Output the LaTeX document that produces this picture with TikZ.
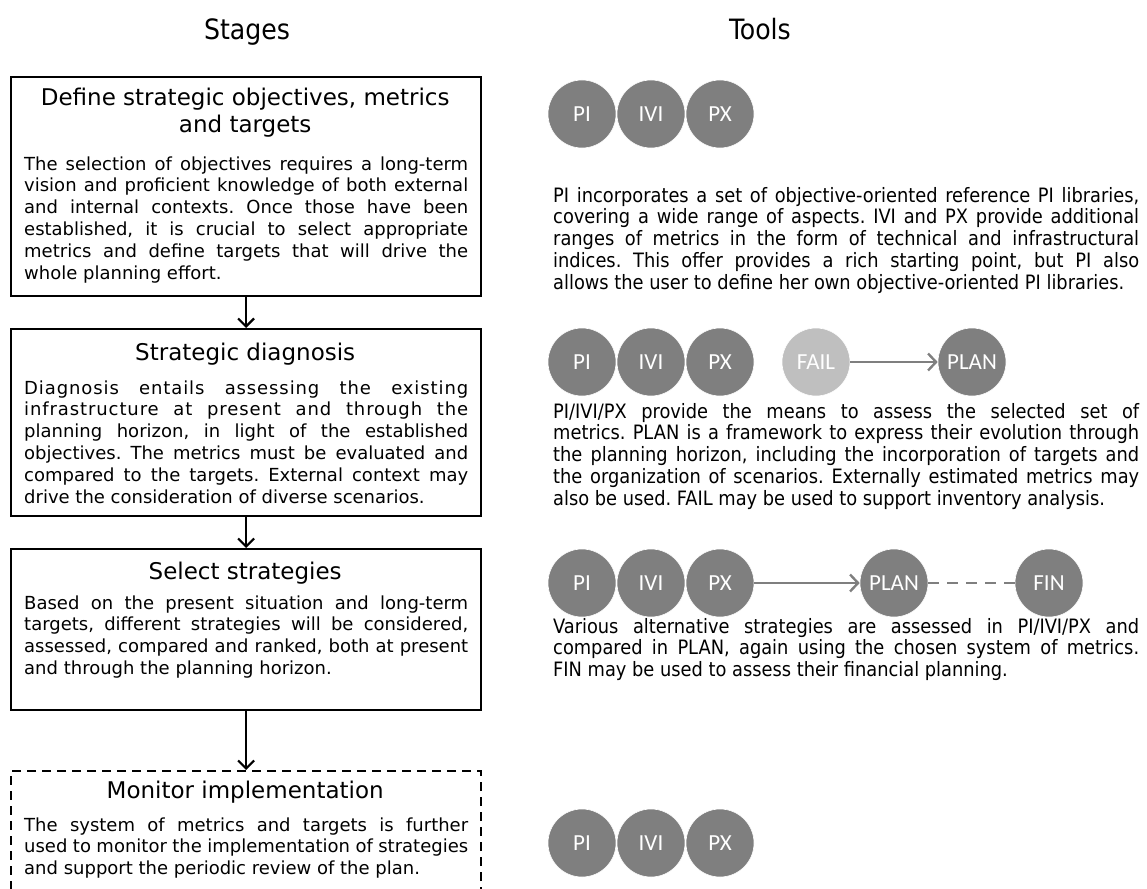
\documentclass[tikz,border=0pt]{standalone}
\usepackage{fontspec}
\setmainfont{DejaVu Sans}
\newfontfamily\condfont{DejaVu Sans Condensed}
\newfontfamily\circfont{Carlito}
\newfontfamily\spacedfont[LetterSpace=5]{DejaVu Sans}
\usetikzlibrary{arrows.meta}
\definecolor{cgray}{HTML}{7F7F7F}
\definecolor{lgray}{HTML}{BFBFBF}
\frenchspacing
% justified line, letter-spaced justified line, last line, centred line
\newcommand\jl[1]{\hbox to \hsize{#1}}
\newcommand\jls[1]{\hbox to \hsize{\spacedfont\fontsize{18}{21.8}\selectfont #1}}
\newcommand\lastl[1]{\hbox{#1}}
\newcommand\cl[1]{\hbox to \hsize{\hss#1\hss}}
\newcommand\leftpara[1]{\vtop{\hsize=444pt\fontsize{18}{21.8}\selectfont #1}}
\newcommand\rightpara[1]{\vtop{\hsize=586pt\condfont\fontsize{19.8}{21.8}\selectfont #1}}
\newcommand\ttl[1]{\vtop{\hsize=470pt\fontsize{23}{27}\selectfont #1}}
\begin{document}
\begin{tikzpicture}[x=1pt,y=-1pt,
  stagebox/.style={draw=black, line width=2.2pt, minimum width=470pt, anchor=north west, inner sep=0pt},
  flow/.style={line width=2.2pt, -{Straight Barb[length=8pt,width=16pt]}},
  txt/.style={anchor=base west, inner sep=0pt},
  head/.style={anchor=base, inner sep=0pt, font=\condfont\fontsize{28}{32}\selectfont},
  tool/.style={circle, fill=cgray, draw=white, line width=0.6pt, minimum size=68pt, inner sep=0pt, text=white, font=\circfont\fontsize{23}{26}\selectfont},
  failtool/.style={tool, fill=lgray},
  toolarrow/.style={draw=cgray, line width=2.4pt, -{Straight Barb[length=8pt,width=17pt]}},
  tooldash/.style={draw=cgray, line width=2.4pt, dash pattern=on 11pt off 8pt}
]
\path[use as bounding box] (0,0) rectangle (1147,888);
\clip (0,0) rectangle (1147,888);

% headings
\node[head] (hstages) at (247,40) {Stages};
\node[head] (htools) at (760,40) {Tools};

% stage boxes
\node[stagebox, minimum height=219pt] (box1) at (10,76) {};
\node[stagebox, minimum height=187pt] (box2) at (10,328) {};
\node[stagebox, minimum height=161pt] (box3) at (10,548) {};
\node[stagebox, dash pattern=on 9pt off 6pt, minimum height=150pt] (box4) at (10,770) {};

\draw[flow] (box1.south) -- (box2.north);
\draw[flow] (box2.south) -- (box3.north);
\draw[flow] (box3.south) -- (box4.north);

% titles
\node[txt] (t1) at (10,106) {\ttl{\cl{Define strategic objectives, metrics}\cl{and targets}}};
\node[txt] (t2) at (10,360) {\ttl{\cl{Strategic diagnosis}}};
\node[txt] (t3) at (10,579) {\ttl{\cl{Select strategies}}};
\node[txt] (t4) at (10,798) {\ttl{\cl{Monitor implementation}}};

% stage texts
\node[txt] (d1) at (24,170) {\leftpara{%
\jl{The selection of objectives requires a long-term}
\jl{vision and proficient knowledge of both external}
\jl{and internal contexts. Once those have been}
\jl{established, it is crucial to select appropriate}
\jl{metrics and define targets that will drive the}
\lastl{whole planning effort.}}};
\node[txt] (d2) at (24,394) {\leftpara{%
\jls{Diagnosis entails assessing the existing}
\jls{infrastructure at present and through the}
\jl{planning horizon, in light of the established}
\jl{objectives. The metrics must be evaluated and}
\jl{compared to the targets. External context may}
\lastl{drive the consideration of diverse scenarios.}}};
\node[txt] (d3) at (24,609) {\leftpara{%
\jl{Based on the present situation and long-term}
\jl{targets, different strategies will be considered,}
\jl{assessed, compared and ranked, both at present}
\lastl{and through the planning horizon.}}};
\node[txt] (d4) at (24,831) {\leftpara{%
\jl{The system of metrics and targets is further}
\jl{used to monitor the implementation of strategies}
\lastl{and support the periodic review of the plan.}}};

% tools row 1
\node[tool] (pi1) at (582,114) {PI};
\node[tool] (ivi1) at (651,114) {IVI};
\node[tool] (px1) at (720,114) {PX};
\node[txt] (r1) at (553,202) {\rightpara{%
\jl{PI incorporates a set of objective-oriented reference PI libraries,}
\jl{covering a wide range of aspects. IVI and PX provide additional}
\jl{ranges of metrics in the form of technical and infrastructural}
\jl{indices. This offer provides a rich starting point, but PI also}
\lastl{allows the user to define her own objective-oriented PI libraries.}}};

% tools row 2
\node[tool] (pi2) at (582,362) {PI};
\node[tool] (ivi2) at (651,362) {IVI};
\node[tool] (px2) at (720,362) {PX};
\node[failtool] (fail2) at (816,362) {FAIL};
\node[tool] (plan2) at (972,362) {PLAN};
\draw[toolarrow] (fail2) -- (plan2);
\node[txt] (r2) at (553,418) {\rightpara{%
\jl{PI/IVI/PX provide the means to assess the selected set of}
\jl{metrics. PLAN is a framework to express their evolution through}
\jl{the planning horizon, including the incorporation of targets and}
\jl{the organization of scenarios. Externally estimated metrics may}
\lastl{also be used. FAIL may be used to support inventory analysis.}}};

% tools row 3
\node[tool] (pi3) at (582,583) {PI};
\node[tool] (ivi3) at (651,583) {IVI};
\node[tool] (px3) at (720,583) {PX};
\node[tool] (plan3) at (894,583) {PLAN};
\node[tool] (fin3) at (1049,583) {FIN};
\draw[toolarrow] (px3) -- (plan3);
\draw[tooldash] (plan3) -- (fin3);
\node[txt] (r3) at (553,633) {\rightpara{%
\jl{Various alternative strategies are assessed in PI/IVI/PX and}
\jl{compared in PLAN, again using the chosen system of metrics.}
\lastl{FIN may be used to assess their financial planning.}}};

% tools row 4
\node[tool] (pi4) at (582,843) {PI};
\node[tool] (ivi4) at (651,843) {IVI};
\node[tool] (px4) at (720,843) {PX};
\end{tikzpicture}
\end{document}
